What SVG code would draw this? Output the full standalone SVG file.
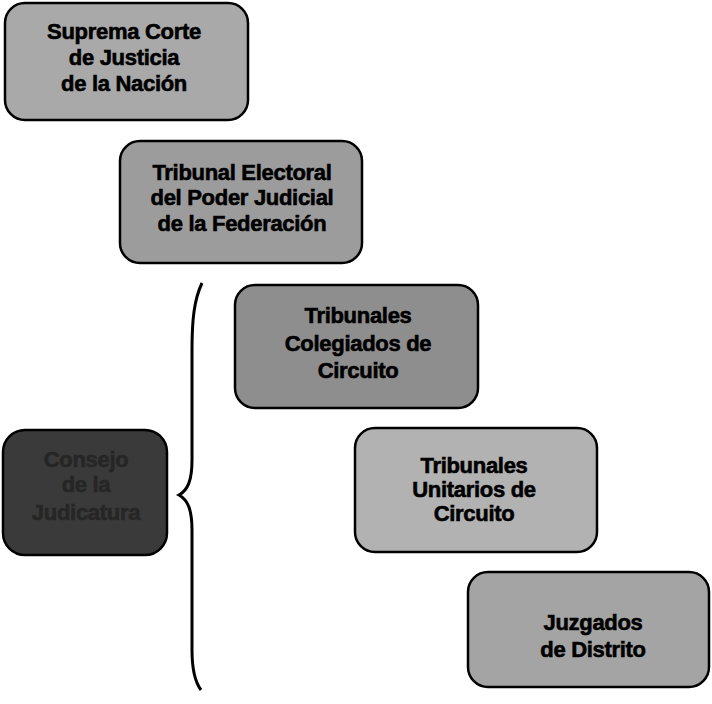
<svg xmlns="http://www.w3.org/2000/svg" width="712" height="704" viewBox="0 0 712 704">
<style>
.box{stroke:#000;stroke-width:2.5}
.t{font-family:"Liberation Sans","DejaVu Sans",sans-serif;font-weight:bold;font-size:22px;fill:#000;stroke:#000;stroke-width:0.6;text-anchor:middle;letter-spacing:-0.3px}
.td{fill:#262626;stroke:#262626}
</style>
<rect width="712" height="704" fill="#fff"/>
<g id="suprema">
<rect class="box" x="5" y="3" width="243" height="117" rx="20" fill="#a9a9a9"/>
<text class="t" x="124" y="39">Suprema Corte</text>
<text class="t" x="124" y="65">de Justicia</text>
<text class="t" x="124" y="91">de la Nación</text>
</g>
<g id="tribunal-electoral">
<rect class="box" x="120" y="141" width="242" height="122" rx="20" fill="#9c9c9c"/>
<text class="t" x="242" y="180">Tribunal Electoral</text>
<text class="t" x="242" y="205">del Poder Judicial</text>
<text class="t" x="242" y="231">de la Federación</text>
</g>
<g id="colegiados">
<rect class="box" x="235" y="285" width="243" height="123" rx="20" fill="#8e8e8e"/>
<text class="t" x="358" y="323">Tribunales</text>
<text class="t" x="358" y="351">Colegiados de</text>
<text class="t" x="358" y="378">Circuito</text>
</g>
<g id="unitarios">
<rect class="box" x="355" y="428" width="242" height="124" rx="20" fill="#b2b2b2"/>
<text class="t" x="474" y="473">Tribunales</text>
<text class="t" x="474" y="497">Unitarios de</text>
<text class="t" x="474" y="521">Circuito</text>
</g>
<g id="juzgados">
<rect class="box" x="468" y="572" width="241" height="115" rx="20" fill="#a4a4a4"/>
<text class="t" x="593" y="630">Juzgados</text>
<text class="t" x="593" y="657">de Distrito</text>
</g>
<g id="consejo">
<rect class="box" x="3" y="430" width="164" height="125" rx="22" fill="#3a3a3a"/>
<text class="t td" x="86" y="467">Consejo</text>
<text class="t td" x="86" y="492">de la</text>
<text class="t td" x="86" y="520">Judicatura</text>
</g>
<g id="connectors">
<path d="M202,283 C194,300 192,320 192,350 L192,460 C192,480 188,490 179,495 C188,500 192,510 192,530 L192,650 C192,670 195,682 201,690" fill="none" stroke="#000" stroke-width="3"/>
</g>
</svg>
